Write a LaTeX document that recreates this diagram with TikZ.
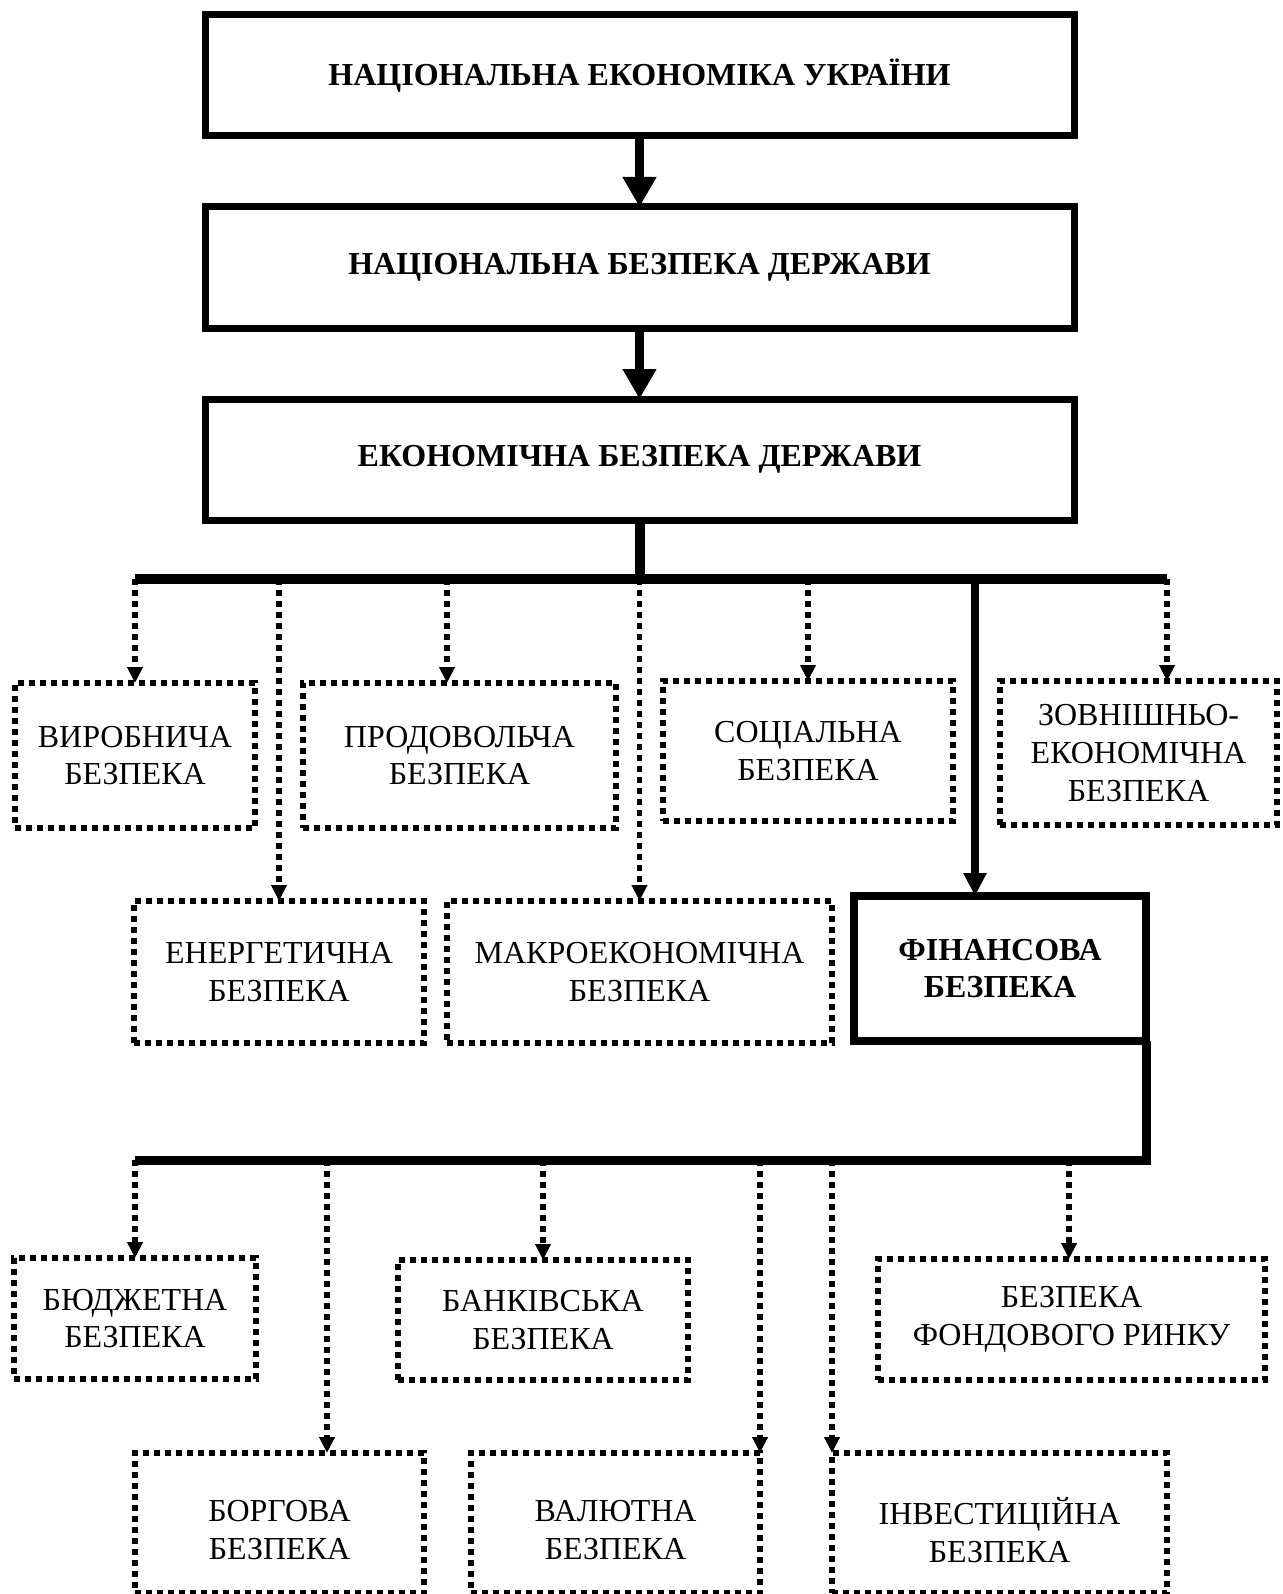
\documentclass[tikz,border=0pt]{standalone}
\usepackage{fontspec}
\setmainfont{Liberation Serif}
\usetikzlibrary{arrows.meta}

\begin{document}
\begin{tikzpicture}[x=0.5pt,y=-0.5pt,
  every node/.style={font=\fontsize{16pt}{18.8pt}\selectfont, align=center,
    inner sep=0pt, outer sep=0pt},
  mainbox/.style={draw, line width=3.5pt,
    font=\fontsize{16pt}{18.8pt}\selectfont\bfseries},
  finbox/.style={draw, line width=4pt,
    font=\fontsize{16pt}{18.8pt}\selectfont\bfseries},
  dotbox/.style={draw, line width=2.6pt, dash pattern=on 2.8pt off 2.7pt},
  busline/.style={line width=5pt, line join=miter},
  mainarrow/.style={line width=4.5pt, -{Triangle[length=15pt,width=16pt]}},
  finarrow/.style={line width=3.6pt, -{Triangle[length=11.5pt,width=11pt]}},
  dotarrow/.style={line width=2.8pt, dash pattern=on 2.8pt off 2.7pt,
    -{Triangle[length=8pt,width=7.5pt]}},
]
\useasboundingbox (0,0) rectangle (1282,1594);

% top chain
\node[mainbox, minimum width=434.5pt, minimum height=60.5pt] (n1) at (639.5,75.5)
  {НАЦІОНАЛЬНА ЕКОНОМІКА УКРАЇНИ};
\node[mainbox, minimum width=434.5pt, minimum height=60.5pt] (n2) at (639.5,267.5)
  {НАЦІОНАЛЬНА БЕЗПЕКА ДЕРЖАВИ};
\node[mainbox, minimum width=434.5pt, minimum height=60.5pt] (n3) at (639.5,459.5)
  {ЕКОНОМІЧНА БЕЗПЕКА ДЕРЖАВИ};
\draw[mainarrow] (n1.south) -- (n2.north);
\draw[mainarrow] (n2.south) -- (n3.north);

% kinds of economic security
\node[dotbox, minimum width=120pt, minimum height=72.5pt] (vyr) at (135,755.5)
  {ВИРОБНИЧА\\БЕЗПЕКА};
\node[dotbox, minimum width=156.5pt, minimum height=72.5pt] (prod) at (459.5,755.5)
  {ПРОДОВОЛЬЧА\\БЕЗПЕКА};
\node[dotbox, minimum width=145pt, minimum height=70pt] (soc) at (808,751)
  {СОЦІАЛЬНА\\БЕЗПЕКА};
\node[dotbox, minimum width=138.5pt, minimum height=72pt] (zovn) at (1138.5,753)
  {ЗОВНІШНЬО-\\ЕКОНОМІЧНА\\БЕЗПЕКА};
\node[dotbox, minimum width=145pt, minimum height=71pt] (energ) at (279,972)
  {ЕНЕРГЕТИЧНА\\БЕЗПЕКА};
\node[dotbox, minimum width=192.5pt, minimum height=71pt] (makro) at (639.5,972)
  {МАКРОЕКОНОМІЧНА\\БЕЗПЕКА};
\node[finbox, minimum width=146pt, minimum height=72.5pt] (fin) at (1000,968.5)
  {ФІНАНСОВА\\БЕЗПЕКА};

% first distribution bus
\coordinate (busL) at (135,579);
\coordinate (busR) at (1167,579);
\coordinate (tprod) at (447,579);
\coordinate (tfin) at (975,579);
\draw[busline] (n3.south) -- (n3.south |- busL);
\draw[busline] (busL) -- (busR);
\draw[dotarrow] (vyr.north |- busL) -- (vyr.north);
\draw[dotarrow] (energ.north |- busL) -- (energ.north);
\draw[dotarrow] (tprod) -- (tprod |- prod.north);
\draw[dotarrow] (makro.north |- busL) -- (makro.north);
\draw[dotarrow] (soc.north |- busL) -- (soc.north);
\draw[finarrow] (tfin) -- (tfin |- fin.north);
\draw[dotarrow] (busR) -- (busR |- zovn.north);

% kinds of financial security
\node[dotbox, minimum width=121pt, minimum height=60.5pt] (bud) at (135,1318.5)
  {БЮДЖЕТНА\\БЕЗПЕКА};
\node[dotbox, minimum width=145pt, minimum height=60pt] (bank) at (543,1320)
  {БАНКІВСЬКА\\БЕЗПЕКА};
\node[dotbox, minimum width=193.5pt, minimum height=60.5pt] (fond) at (1071.5,1319.5)
  {БЕЗПЕКА\\ФОНДОВОГО РИНКУ};

% lowest row: frames run past the lower edge, so their labels sit a little lower
\node[dotbox, minimum width=144.5pt, minimum height=70pt] (borg) at (279.5,1523) {};
\node[dotbox, minimum width=144.5pt, minimum height=70pt] (val) at (615.5,1523) {};
\node[dotbox, minimum width=167.5pt, minimum height=70pt] (inv) at (999.5,1523) {};
\node (borgtext) at ([yshift=-3.5pt]borg.center) {БОРГОВА\\БЕЗПЕКА};
\node (valtext) at ([yshift=-3.5pt]val.center) {ВАЛЮТНА\\БЕЗПЕКА};
\node (invtext) at ([yshift=-3.5pt]inv.center) {ІНВЕСТИЦІЙНА\\БЕЗПЕКА};

% second distribution bus
\coordinate (bus2L) at (135,1160);
\coordinate (tborg) at (327,1160);
\coordinate (tfond) at (1069,1160);
\draw[busline, line width=4.5pt] (fin.south east) -- (fin.south east |- bus2L) -- (bus2L);
\draw[dotarrow] (bud.north |- bus2L) -- (bud.north);
\draw[dotarrow] (tborg) -- (tborg |- borg.north);
\draw[dotarrow] (bank.north |- bus2L) -- (bank.north);
\draw[dotarrow] (val.north east |- bus2L) -- (val.north east);
\draw[dotarrow] (inv.north west |- bus2L) -- (inv.north west);
\draw[dotarrow] (tfond) -- (tfond |- fond.north);
\end{tikzpicture}
\end{document}
